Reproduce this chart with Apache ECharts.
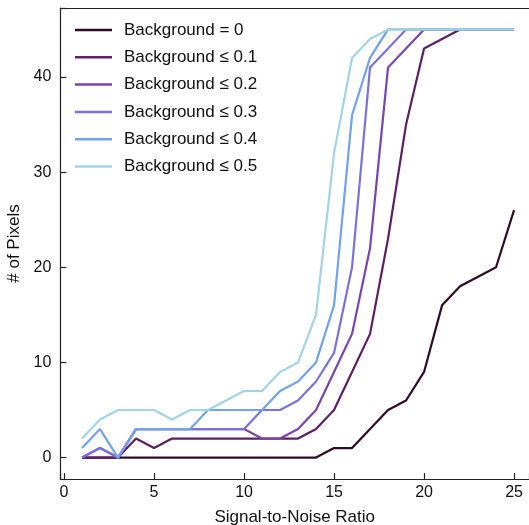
<!DOCTYPE html>
<html>
<head>
<meta charset="utf-8">
<script src="https://cdn.jsdelivr.net/npm/echarts@6/dist/echarts.min.js"></script>
<style>
html,body{margin:0;padding:0;background:#fff;}
#c{width:529px;height:525px;}
</style>
</head>
<body>
<div id="c"></div>
<script>
const snr = [1,2,3,4,5,6,7,8,9,10,11,12,13,14,15,16,17,18,19,20,21,22,23,24,25];
const bg00 = [0,0,0,0,0,0,0,0,0,0,0,0,0,0,1,1,3,5,6,9,16,18,19,20,26];
const bg01 = [0,0,0,2,1,2,2,2,2,2,2,2,2,3,5,9,13,23,35,43,44,45,45,45,45];
const bg02 = [0,1,0,3,3,3,3,3,3,3,2,2,3,5,9,13,22,41,43,45,45,45,45,45,45];
const bg03 = [0,1,0,3,3,3,3,3,3,3,5,5,6,8,11,20,41,43,45,45,45,45,45,45,45];
const bg04 = [1,3,0,3,3,3,3,5,5,5,5,7,8,10,16,36,42,45,45,45,45,45,45,45,45];
const bg05 = [2,4,5,5,5,4,5,5,6,7,7,9,10,15,32,42,44,45,45,45,45,45,45,45,45];
const names = ['Background = 0','Background \u2264 0.1','Background \u2264 0.2','Background \u2264 0.3','Background \u2264 0.4','Background \u2264 0.5'];
const colors = ['#2e0c24','#5d1f62','#7a44ad','#7b72d8','#72a2ea','#a3d3e6'];
const values = [bg00,bg01,bg02,bg03,bg04,bg05];

const chart = echarts.init(document.getElementById('c'), null, {renderer:'canvas'});
const fnt = 'Liberation Sans, Arial, sans-serif';
const XMIN = -0.2, XMAX = 25.83;
const lineCol = '#222';
chart.setOption({
  animation:false,
  backgroundColor:'#fff',
  grid:{left:60.4, right:0, top:8, bottom:46, show:false, containLabel:false, outerBoundsMode:'none'},
  legend:{
    orient:'vertical', left:75, top:20, padding:0,
    icon:'rect', itemWidth:37, itemHeight:2.5, itemGap:7.3,
    textStyle:{fontFamily:fnt, fontSize:17, color:'#111', lineHeight:20, padding:[0,0,0,7]},
    data:names
  },
  xAxis:[{
    type:'value', min:XMIN, max:XMAX, splitNumber:5,
    name:'Signal-to-Noise Ratio', nameLocation:'middle', nameGap:30,
    nameTextStyle:{fontFamily:fnt, fontSize:17, color:'#111'},
    axisLine:{show:true, onZero:false, lineStyle:{color:lineCol, width:1.2}},
    axisTick:{show:true, inside:true, length:6, lineStyle:{color:lineCol, width:1.2}},
    axisLabel:{fontFamily:fnt, fontSize:16, color:'#111', margin:6,
      formatter: v => (Math.abs(v % 5) < 1e-6 ? String(v) : '')},
    splitLine:{show:false}
  },{
    type:'value', position:'top', min:XMIN, max:XMAX,
    axisLine:{show:true, onZero:false, lineStyle:{color:lineCol, width:1.2}},
    axisTick:{show:false}, axisLabel:{show:false}, splitLine:{show:false}
  }],
  yAxis:{
    type:'value', min:-2.25, max:47.25, splitNumber:5,
    name:'# of Pixels', nameLocation:'middle', nameGap:30,
    nameTextStyle:{fontFamily:fnt, fontSize:17, color:'#111'},
    axisLine:{show:true, onZero:false, lineStyle:{color:lineCol, width:1.2}},
    axisTick:{show:true, inside:true, length:6, lineStyle:{color:lineCol, width:1.2}},
    axisLabel:{fontFamily:fnt, fontSize:16, color:'#111', margin:9,
      formatter: v => (Math.abs(v % 10) < 1e-6 ? String(v) : '')},
    splitLine:{show:false}
  },
  series: values.map((arr,i)=>({
    name:names[i], type:'line', showSymbol:false, symbol:'none',
    xAxisIndex:0,
    data: snr.map((x,j)=>[x, arr[j]]),
    lineStyle:{color:colors[i], width:2.2},
    itemStyle:{color:colors[i]},
    z: 2+i
  }))
});
</script>
</body>
</html>
